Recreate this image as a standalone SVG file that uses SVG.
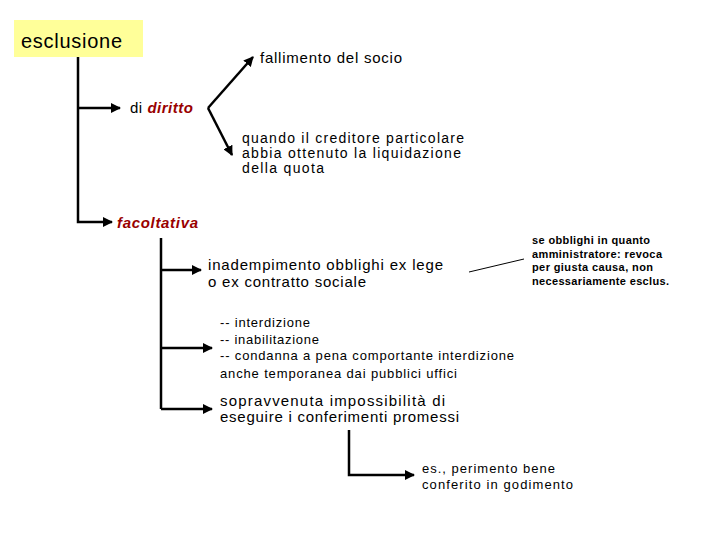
<svg xmlns="http://www.w3.org/2000/svg" width="720" height="540" viewBox="0 0 720 540">
<defs>
<marker id="ah" viewBox="0 0 10 10" refX="9" refY="5" markerWidth="4" markerHeight="4" orient="auto" markerUnits="strokeWidth">
<path d="M0,0 L10,5 L0,10 z" fill="#000"/>
</marker>
<style>
text{font-family:"Liberation Sans",Arial,sans-serif;fill:#000}
.c{fill:none;stroke:#000;stroke-width:2.5}
.a{marker-end:url(#ah)}
.red{fill:#990000;font-style:italic;font-weight:bold}
.s{font-size:11px;font-weight:bold}
</style>
</defs>
<rect width="720" height="540" fill="#fff"/>
<g id="connectors">
<polyline class="c" points="78,57 78,222 112,222" marker-end="url(#ah)"/>
<polyline class="c a" points="78,108 120,108"/>
<polyline class="c a" points="208,108 253,57"/>
<polyline class="c a" points="208,108 232,155"/>
<polyline class="c" points="161,238 161,409"/>
<polyline class="c a" points="161,270 201,270"/>
<polyline class="c a" points="161,348 212,348"/>
<polyline class="c a" points="161,409 212,409"/>
<polyline class="c a" points="349,430 349,475 414,475"/>
<line x1="469" y1="272" x2="524" y2="259" stroke="#000" stroke-width="1"/>
</g>
<g id="esclusione">
<rect x="14" y="20" width="129" height="37" fill="#ffff99"/>
<text x="21" y="48" font-size="20" textLength="101" lengthAdjust="spacing">esclusione</text>
</g>
<g id="diritto">
<text x="130" y="113" font-size="15" textLength="63" lengthAdjust="spacing">di <tspan class="red">diritto</tspan></text>
</g>
<g id="fallimento">
<text x="260" y="63" font-size="15" textLength="142" lengthAdjust="spacing">fallimento del socio</text>
</g>
<g id="quando">
<text x="242" y="143" font-size="14" textLength="222" lengthAdjust="spacing">quando il creditore particolare</text>
<text x="242" y="158" font-size="14" textLength="219" lengthAdjust="spacing">abbia ottenuto la liquidazione</text>
<text x="242" y="173" font-size="14" textLength="82" lengthAdjust="spacing">della quota</text>
</g>
<g id="facoltativa">
<text x="117" y="228" font-size="15" class="red" textLength="81" lengthAdjust="spacing">facoltativa</text>
</g>
<g id="inadempimento">
<text x="208" y="270" font-size="15" textLength="235" lengthAdjust="spacing">inadempimento obblighi ex lege</text>
<text x="208" y="287" font-size="15" textLength="158" lengthAdjust="spacing">o ex contratto sociale</text>
</g>
<g id="amministratore">
<text x="532" y="244" class="s" textLength="118" lengthAdjust="spacing">se obblighi in quanto</text>
<text x="532" y="258" class="s" textLength="130" lengthAdjust="spacing">amministratore: revoca</text>
<text x="532" y="271" class="s" textLength="121" lengthAdjust="spacing">per giusta causa, non</text>
<text x="532" y="285" class="s" textLength="137" lengthAdjust="spacing">necessariamente esclus.</text>
</g>
<g id="interdizione">
<text x="220" y="327" font-size="13" textLength="90" lengthAdjust="spacing">-- interdizione</text>
<text x="220" y="344" font-size="13" textLength="99" lengthAdjust="spacing">-- inabilitazione</text>
<text x="220" y="360" font-size="13" textLength="294" lengthAdjust="spacing">-- condanna a pena comportante interdizione</text>
<text x="220" y="378" font-size="13" textLength="237" lengthAdjust="spacing">anche temporanea dai pubblici uffici</text>
</g>
<g id="sopravvenuta">
<text x="220" y="406" font-size="15" textLength="225" lengthAdjust="spacing">sopravvenuta impossibilità di</text>
<text x="220" y="422" font-size="15" textLength="239" lengthAdjust="spacing">eseguire i conferimenti promessi</text>
</g>
<g id="perimento">
<text x="422" y="473" font-size="13" textLength="133" lengthAdjust="spacing">es., perimento bene</text>
<text x="422" y="489" font-size="13" textLength="151" lengthAdjust="spacing">conferito in godimento</text>
</g>
</svg>
